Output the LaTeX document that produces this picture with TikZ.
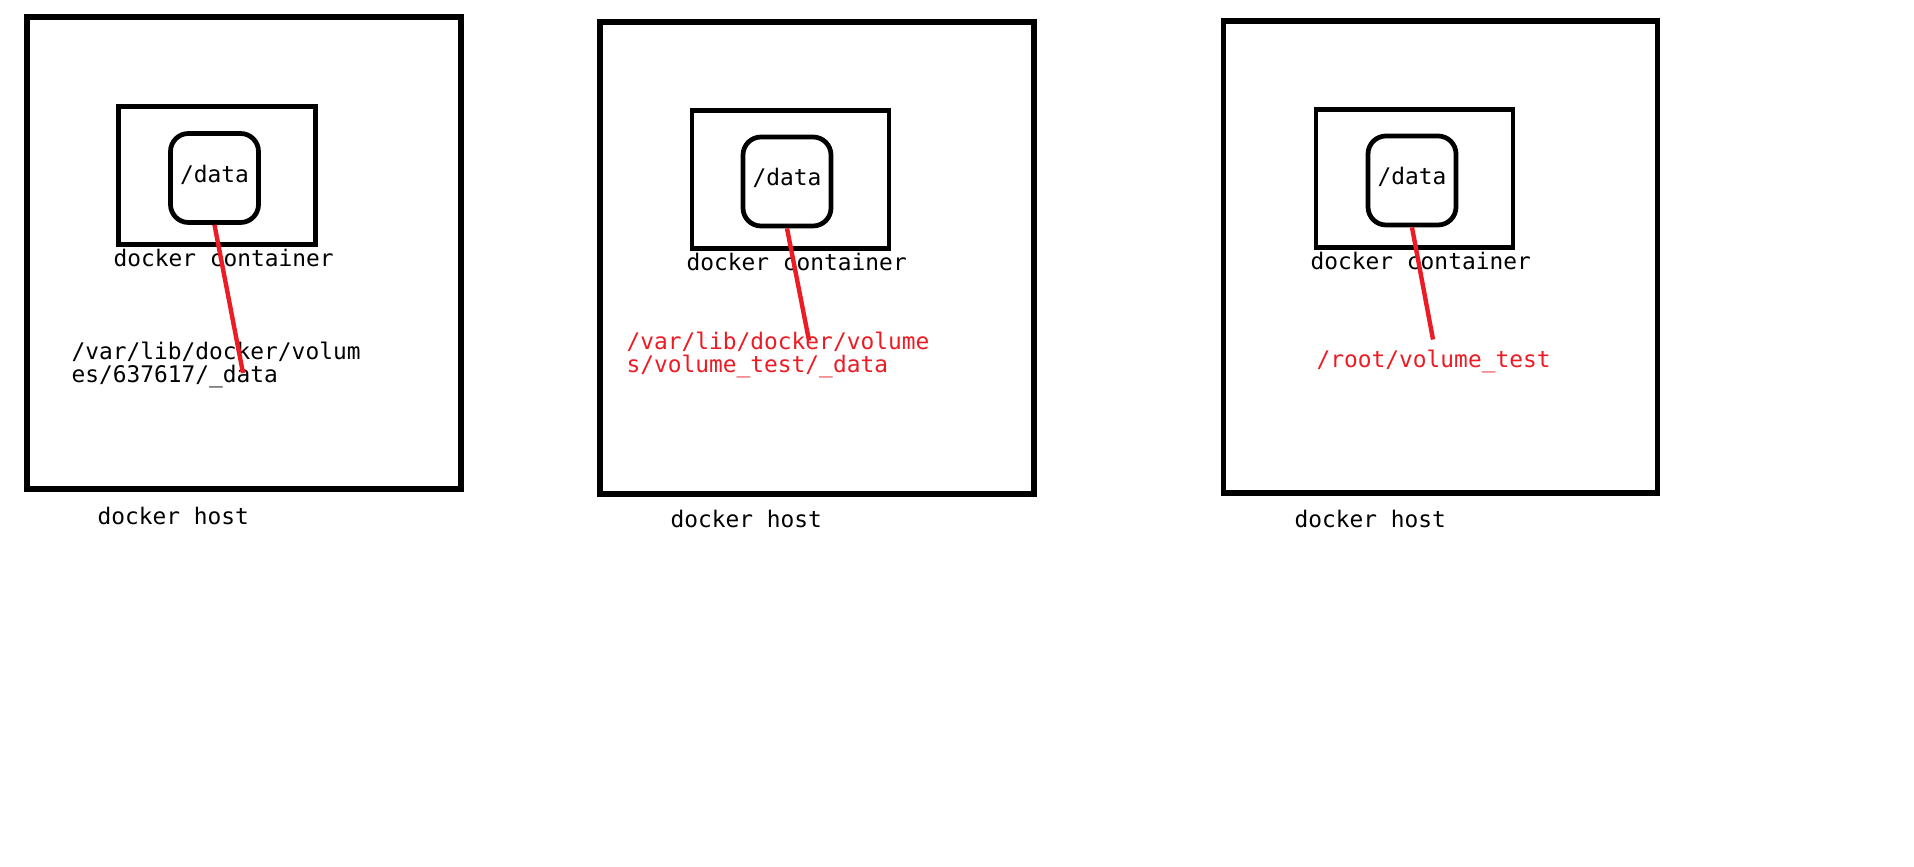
\documentclass[tikz,border=0pt]{standalone}
\usepackage{fontspec}
\setmonofont{DejaVu Sans Mono}
\definecolor{paintred}{HTML}{ED1C24}
\tikzset{
  hostbox/.style={draw, line width=1.45pt, minimum width=4.34cm, minimum height=4.72cm, inner sep=0pt},
  contbox/.style={draw, line width=1.35pt, minimum width=1.97cm, minimum height=1.38cm, inner sep=0pt},
  databox/.style={draw, line width=1.35pt, rounded corners=0.18cm, minimum width=0.88cm, minimum height=0.89cm, inner sep=0pt, text depth=2.6pt, font=\ttfamily\fontsize{6.5}{6.55}\selectfont},
  lbl/.style={anchor=base west, inner sep=0pt, align=left, font=\ttfamily\fontsize{6.5}{6.55}\selectfont},
  redlbl/.style={lbl, text=paintred},
  link/.style={draw=paintred, line width=1.25pt},
}
\begin{document}
\begin{tikzpicture}

  % Background
  \fill[white] (0,0) rectangle (19.14,-8.67);

%%%%%%%%%%%%%%%%%%%%%%%%%%%%%%%%%%%%%%%%%%
  % Anonymous volume
  \begin{scope}
    % Host and container
    \node[hostbox] (host1) at (2.44,-2.53) {};
    \node[contbox] (cont1) at (2.17,-1.755) {};
    \node[databox] (data1) at (2.145,-1.78) {/data};

    % Labels
    \node[lbl] (contlbl1) at (1.13,-2.67) {docker container};
    \node[lbl] (path1) at (0.71,-3.83) {/var/lib/docker/volum\\es/637617/\_data};
    \node[lbl] (hostlbl1) at (0.97,-5.25) {docker host};

    % Mount
    \coordinate (end1) at (2.43,-3.73);
    \draw[link] (data1.south) -- (end1);
  \end{scope}

%%%%%%%%%%%%%%%%%%%%%%%%%%%%%%%%%%%%%%%%%%
  % Named volume
  \begin{scope}
    % Host and container
    \node[hostbox] (host2) at (8.17,-2.58) {};
    \node[contbox] (cont2) at (7.905,-1.794) {};
    \node[databox] (data2) at (7.87,-1.815) {/data};

    % Labels
    \node[lbl] (contlbl2) at (6.86,-2.71) {docker container};
    \node[redlbl] (path2) at (6.26,-3.727) {/var/lib/docker/volume\\s/volume\_test/\_data};
    \node[lbl] (hostlbl2) at (6.70,-5.28) {docker host};

    % Mount
    \coordinate (end2) at (8.09,-3.406);
    \draw[link] (data2.south) -- (end2);
  \end{scope}

%%%%%%%%%%%%%%%%%%%%%%%%%%%%%%%%%%%%%%%%%%
  % Bind mount
  \begin{scope}
    % Host and container
    \node[hostbox] (host3) at (14.405,-2.57) {};
    \node[contbox] (cont3) at (14.145,-1.783) {};
    \node[databox] (data3) at (14.12,-1.805) {/data};

    % Labels
    \node[lbl] (contlbl3) at (13.10,-2.70) {docker container};
    \node[redlbl] (path3) at (13.16,-3.674) {/root/volume\_test};
    \node[lbl] (hostlbl3) at (12.94,-5.28) {docker host};

    % Mount
    \coordinate (end3) at (14.33,-3.395);
    \draw[link] (data3.south) -- (end3);
  \end{scope}

\end{tikzpicture}
\end{document}
